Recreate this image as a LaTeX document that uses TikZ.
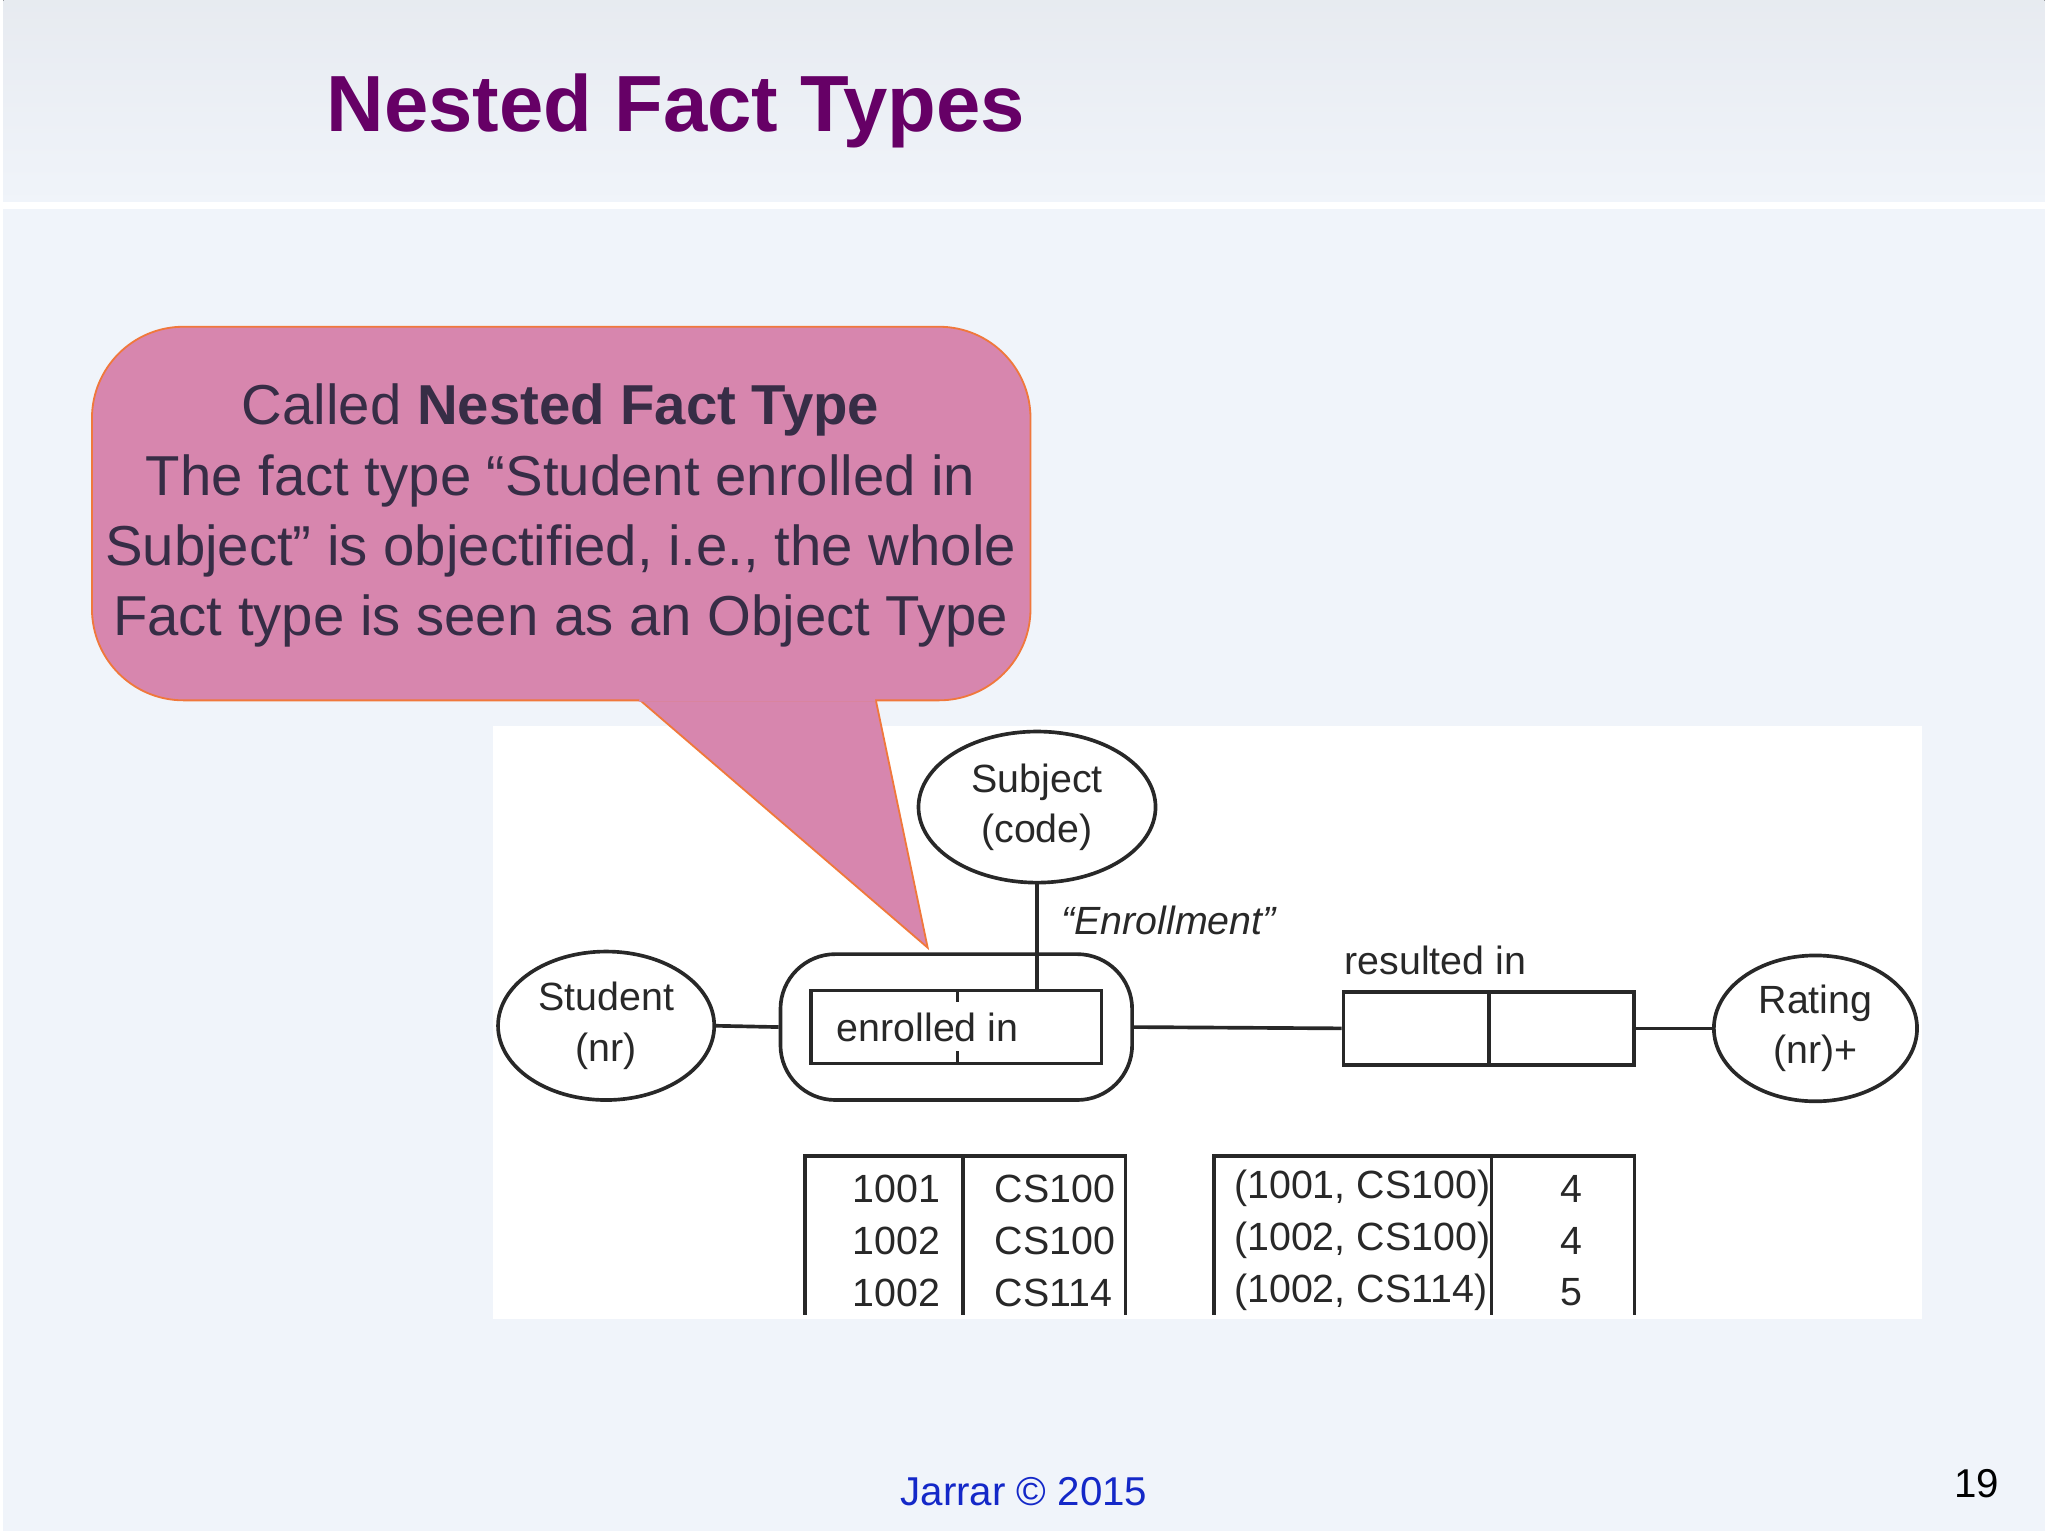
\documentclass[tikz,border=0pt]{standalone}
\usepackage{fontspec}
\setmainfont{Liberation Sans}
\usetikzlibrary{shapes.geometric, positioning, calc}
\definecolor{slideBg}{RGB}{240, 244, 250}
\definecolor{titlePurple}{RGB}{102, 0, 102}
\definecolor{calloutPink}{RGB}{215, 134, 174}
\definecolor{calloutEdge}{RGB}{240, 120, 60}
\definecolor{calloutText}{RGB}{55, 45, 70}
\definecolor{footBlue}{RGB}{20, 40, 200}
\definecolor{inkGrey}{RGB}{40, 40, 40}
\begin{document}
\begin{tikzpicture}[x=0.01cm, y=-0.01cm,
    % Node Styles
    entity/.style={draw=inkGrey, thick, ellipse, inner sep=0pt, minimum width=1.66cm, minimum height=1.14cm,
        align=center, font=\fontsize{8.6}{11}\selectfont, text=inkGrey},
    rolebox/.style={draw=inkGrey, thick, minimum width=2.23cm, minimum height=0.56cm, inner sep=0pt},
    conn/.style={draw=inkGrey, thick},
    cell/.style={font=\fontsize{8.6}{11}\selectfont, text=inkGrey, anchor=west}
]

% --- Background ---
\fill[slideBg] (0,0) rectangle (1568,1176);
\fill[top color=slideBg!92!gray, bottom color=slideBg] (0,0) rectangle (1568,158);
\draw[white, line width=1.5pt] (0,158) -- (1568,158);
\node[font=\fontsize{17.4}{21}\selectfont\bfseries, text=titlePurple, anchor=west] (title) at (236,85) {Nested Fact Types};

% --- Diagram panel ---
\fill[white] (376,558) rectangle (1474,1013);

% --- Callout ---
\fill[calloutPink, draw=calloutEdge] (488,537) -- (710,728) -- (670,537) -- cycle;
\draw[calloutEdge, fill=calloutPink, rounded corners=20pt] (68,251) rectangle (789,538);
\fill[calloutPink] (490,533) -- (668,533) -- (670,539) -- (488,539) -- cycle;
\node[align=center, text=calloutText, font=\fontsize{12.3}{15.3}\selectfont] (note) at (428,396)
    {Called \textbf{Nested Fact Type}\\The fact type “Student enrolled in\\Subject” is objectified, i.e., the whole\\Fact type is seen as an Object Type};

% --- Object types ---
\node[entity, minimum width=1.82cm, minimum height=1.16cm] (subject) at (794,620) {Subject\\(code)};
\node[entity] (student) at (463,788) {Student\\(nr)};
\node[entity, minimum width=1.56cm, minimum height=1.12cm] (rating) at (1392,790) {Rating\\(nr)+};

% --- Nested fact type ---
\node[draw=inkGrey, thick, rounded corners=12pt, minimum width=2.7cm, minimum height=1.12cm] (enrolObj) at (732,789) {};
\node[rolebox] (enrolRole) at (732,789) {};
\draw[conn] (733,760) -- ++(0,10) (733,817) -- ++(0,-10);
\node[font=\fontsize{8.6}{11}\selectfont, text=inkGrey] (enrolLbl) at (710,789) {enrolled in};
\node[font=\fontsize{8.6}{11}\selectfont\itshape, text=inkGrey] (enrolName) at (895,707) {“Enrollment”};

% --- resulted in ---
\node[rolebox] (resultRole) at (1141,790) {};
\draw[conn] (resultRole.north) -- (resultRole.south);
\node[font=\fontsize{8.6}{11}\selectfont, text=inkGrey] (resultLbl) at (1100,738) {resulted in};

% Connections
\draw[conn] (subject.south) -- (subject.south |- enrolRole.north);
\draw[conn] (student.east) -- (enrolObj.west);
\draw[conn] (enrolObj.east) -- (resultRole.west);
\draw[conn] (resultRole.east) -- (rating.west);

% --- Sample populations ---
\draw[conn] (616,1010) |- (862,888) -- (862,1010) (737,888) -- (737,1010);
\draw[conn] (930,1010) |- (1253,888) -- (1253,1010) (1143,888) -- (1143,1010);
\foreach \y/\a/\b/\c in {913/1001/CS100/4, 953/1002/CS100/4, 993/1002/CS114/5} {
    \node[cell] at (640,\y) {\a};
    \node[cell] at (749,\y) {\b};
    \node[cell] at (933,\y) {(\a, \b)};
    \node[cell] at (1184,\y) {\c};
}

% --- Footer ---
\node[font=\fontsize{8.8}{11}\selectfont, text=footBlue] (footer) at (784,1146) {Jarrar © 2015};
\node[font=\fontsize{8.8}{11}\selectfont] (pageNo) at (1516,1140) {19};
\end{tikzpicture}
\end{document}
